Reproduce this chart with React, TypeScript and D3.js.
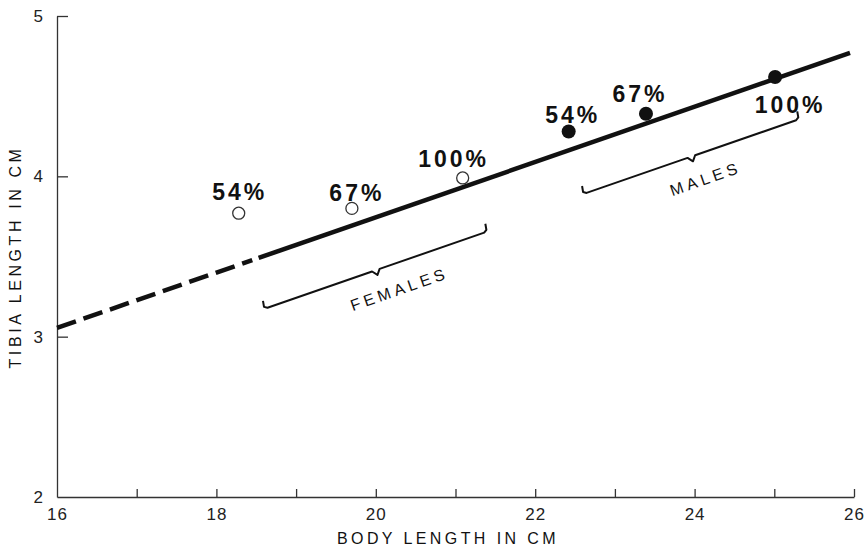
import React, { useEffect, useRef } from "react";
import * as d3 from "d3";

// values
const pctLabels = ["54%", "67%", "100%"];
const femaleBody = [18.28, 19.7, 21.09];
const femaleTibia = [3.77, 3.8, 3.99];
const maleBody = [22.42, 23.39, 25.01];
const maleTibia = [4.28, 4.39, 4.62];
const fitBody = [16, 25.95];
const fitTibia = [3.055, 4.77];
const dashedUntil = 18.45;
const xTicks = [16, 17, 18, 19, 20, 21, 22, 23, 24, 25, 26];
const xLabelTicks = [16, 18, 20, 22, 24, 26];
const yTicks = [2, 3, 4, 5];
const groups = ["FEMALES", "MALES"];
const groupFrom = [18.4, 22.42];
const groupTo = [21.19, 25.12];

const App = () => {
  const svgRef = useRef<SVGSVGElement>(null);

  useEffect(() => {
    const width = 867, height = 550;
    const svg = d3.select(svgRef.current)
      .attr("width", width)
      .attr("height", height);
    svg.selectAll("*").remove();

    const x = d3.scaleLinear().domain([16, 26]).range([57, 854]);
    const y = d3.scaleLinear().domain([2, 5]).range([497, 16]);
    const font = "'Liberation Sans', Arial, sans-serif";
    const ink = "#111";

    // x axis: ticks every cm, labels every 2 cm
    const gx = svg.append("g").attr("transform", `translate(0, ${y(2)})`);
    gx.call(d3.axisBottom(x).tickValues(xTicks.slice(1)).tickSize(-8).tickSizeOuter(0).tickFormat(() => ""));
    gx.selectAll("path, line").attr("stroke", "#333").attr("stroke-width", 1.3);
    const gxl = svg.append("g").attr("transform", `translate(0, ${y(2)})`);
    gxl.call(d3.axisBottom(x).tickValues(xLabelTicks).tickSize(0).tickPadding(11).tickFormat(d3.format("d")));
    gxl.select(".domain").remove();
    gxl.selectAll("text").attr("font-family", font).attr("font-size", 17).attr("fill", "#222").attr("letter-spacing", 1);

    // y axis: ticks point inwards
    const gy = svg.append("g").attr("transform", `translate(${x(16)}, 0)`);
    gy.call(d3.axisLeft(y).tickValues(yTicks).tickSize(-11).tickSizeOuter(0).tickPadding(14).tickFormat(d3.format("d")));
    gy.selectAll("path, line").attr("stroke", "#333").attr("stroke-width", 1.3);
    gy.selectAll(".tick").filter(d => d === 2).select("line").remove();
    gy.selectAll("text").attr("font-family", font).attr("font-size", 17).attr("fill", "#222");

    svg.append("text")
      .attr("x", 448)
      .attr("y", 544)
      .attr("text-anchor", "middle")
      .attr("font-family", font)
      .attr("font-size", 16)
      .attr("letter-spacing", 3.4)
      .attr("fill", ink)
      .text("BODY LENGTH IN CM");

    svg.append("text")
      .attr("transform", "rotate(-90)")
      .attr("x", -257)
      .attr("y", 21)
      .attr("text-anchor", "middle")
      .attr("font-family", font)
      .attr("font-size", 16)
      .attr("letter-spacing", 3.6)
      .attr("fill", ink)
      .text("TIBIA LENGTH IN CM");

    // regression line, dashed where extrapolated
    const slope = (fitTibia[1] - fitTibia[0]) / (fitBody[1] - fitBody[0]);
    const fit = (b: number) => fitTibia[0] + slope * (b - fitBody[0]);
    const line = d3.line<number>().x(d => x(d)).y(d => y(fit(d)));
    svg.append("path")
      .attr("d", line([fitBody[0], dashedUntil]))
      .attr("fill", "none")
      .attr("stroke", ink)
      .attr("stroke-width", 4.5)
      .attr("stroke-dasharray", "20 8");
    svg.append("path")
      .attr("d", line([dashedUntil + 0.08, fitBody[1]]))
      .attr("fill", "none")
      .attr("stroke", ink)
      .attr("stroke-width", 4.5);

    // braces under the line
    const p0 = [x(16), y(fit(16))], p1 = [x(26), y(fit(26))];
    const len = Math.hypot(p1[0] - p0[0], p1[1] - p0[1]);
    const u = [(p1[0] - p0[0]) / len, (p1[1] - p0[1]) / len];
    const n = [-u[1], u[0]]; // points down-right, away from line
    const offsets = [50, 46];
    const labelShift = [16, 6];
    groups.forEach((name, i) => {
      const a = [x(groupFrom[i]), y(fit(groupFrom[i]))];
      const b = [x(groupTo[i]), y(fit(groupTo[i]))];
      const off = offsets[i];
      const pt = (p: number[], t: number, s: number) => [p[0] + n[0] * (off + s) + u[0] * t, p[1] + n[1] * (off + s) + u[1] * t];
      const mid = [(a[0] + b[0]) / 2, (a[1] + b[1]) / 2];
      const pts = [
        pt(a, 1, -8), pt(a, 0, -2), pt(a, 3, 0),
        pt(mid, -4, 0), pt(mid, 0, 5), pt(mid, 4, 0),
        pt(b, -3, 0), pt(b, 0, -2), pt(b, 1, -8)
      ];
      svg.append("path")
        .attr("d", d3.line().curve(d3.curveLinear)(pts as [number, number][]))
        .attr("fill", "none")
        .attr("stroke", ink)
        .attr("stroke-width", 2)
        .attr("stroke-linejoin", "round");
      const lp = pt(mid, labelShift[i], 27);
      const ang = Math.atan2(u[1], u[0]) * 180 / Math.PI;
      svg.append("text")
        .attr("transform", `translate(${lp[0]}, ${lp[1]}) rotate(${ang})`)
        .attr("text-anchor", "middle")
        .attr("dominant-baseline", "middle")
        .attr("font-family", font)
        .attr("font-size", 16)
        .attr("letter-spacing", 4)
        .attr("fill", ink)
        .text(name);
    });

    // data points
    svg.selectAll(".female")
      .data(femaleBody)
      .enter().append("circle")
      .attr("cx", d => x(d))
      .attr("cy", (d, i) => y(femaleTibia[i]))
      .attr("r", 6)
      .attr("fill", "white")
      .attr("stroke", "#333")
      .attr("stroke-width", 1.3);

    svg.selectAll(".male")
      .data(maleBody)
      .enter().append("circle")
      .attr("cx", d => x(d))
      .attr("cy", (d, i) => y(maleTibia[i]))
      .attr("r", 7)
      .attr("fill", ink);

    // percentage labels (hand placed around each point)
    const femaleShift = [[1, -13], [5, -7], [-9, -11]];
    const maleShift = [[4, -8], [-6, -12], [15, 36]];
    const addLabels = (bodies: number[], tibias: number[], shift: number[][]) => {
      bodies.forEach((bd, i) => {
        svg.append("text")
          .attr("x", x(bd) + shift[i][0])
          .attr("y", y(tibias[i]) + shift[i][1])
          .attr("text-anchor", "middle")
          .attr("font-family", font)
          .attr("font-size", 23)
          .attr("font-weight", "bold")
          .attr("letter-spacing", 3)
          .attr("fill", ink)
          .text(pctLabels[i]);
      });
    };
    addLabels(femaleBody, femaleTibia, femaleShift);
    addLabels(maleBody, maleTibia, maleShift);
  }, []);

  return <svg ref={svgRef} style={{ display: "block", position: "absolute", left: 0, top: 0 }}></svg>;
};

export default App;
